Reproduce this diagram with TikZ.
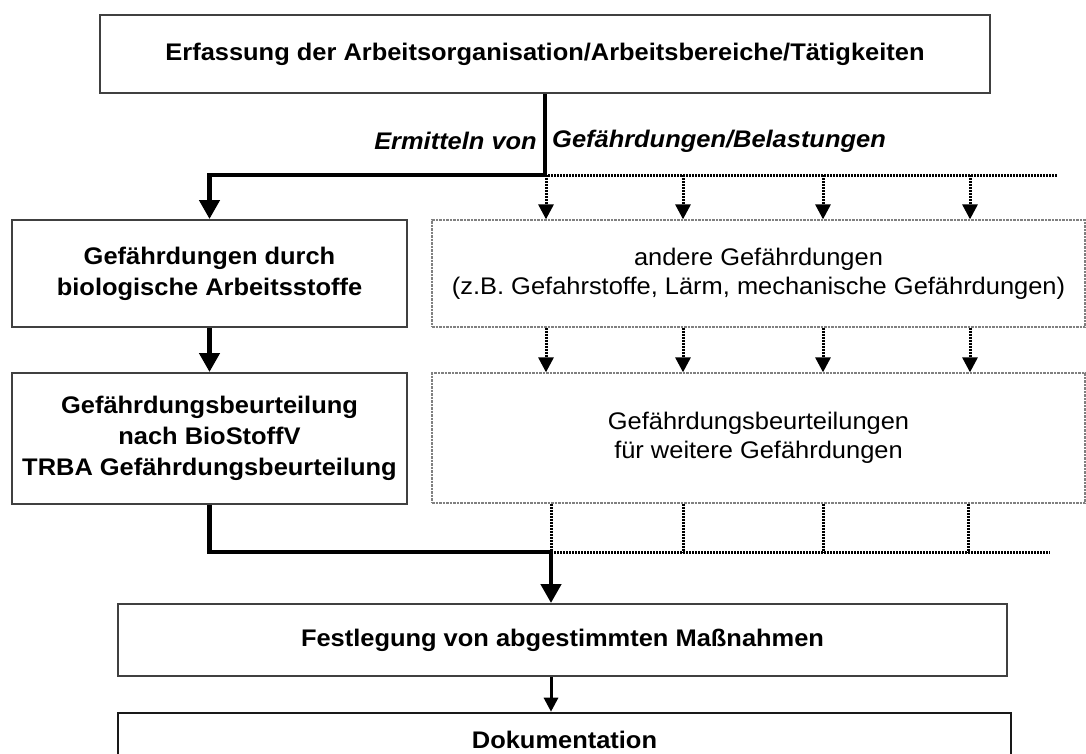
\documentclass[tikz,border=0pt]{standalone}
\usepackage{fontspec}
\setmainfont{Liberation Sans}[FakeStretch=1.06]
\usetikzlibrary{arrows.meta,calc}
\tikzset{
  x=1pt,y=-1pt,
  box/.style={draw=black!75,line width=2pt,rectangle,inner sep=0pt,align=center,
    font=\fontsize{24}{31}\selectfont\bfseries},
  dbox/.style={draw=black!50,line width=1.3pt,dash pattern=on 2.5pt off 1pt,rectangle,inner sep=0pt,align=center,
    font=\fontsize{24}{29}\selectfont},
  thick arrow/.style={line width=4.5pt,-{Triangle[length=19pt,width=20pt]}},
  thick line/.style={line width=4.5pt},
  dot line/.style={line width=3pt,dash pattern=on 2pt off 1pt},
  dot arrow/.style={dot line,-{Triangle[length=15pt,width=15pt]}},
  lbl/.style={font=\fontsize{24}{28}\selectfont\bfseries\itshape,inner sep=0pt},
}
\begin{document}
\begin{tikzpicture}
\useasboundingbox (0,0) rectangle (1086,753);
\fill[white] (0,0) rectangle (1086,753);

\node[box,minimum width=890pt,minimum height=78pt] (top) at (545,54)
  {Erfassung der Arbeitsorganisation/Arbeitsbereiche/Tätigkeiten};
\node[box,minimum width=395pt,minimum height=107pt] (bio) at (209.5,273.5)
  {Gefährdungen durch\\biologische Arbeitsstoffe};
\node[box,minimum width=395pt,minimum height=131pt] (tbeur) at (209.5,438.5)
  {Gefährdungsbeurteilung\\nach BioStoffV\\TRBA Gefährdungsbeurteilung};
\node[dbox,minimum width=653pt,minimum height=107pt] (other) at (758.5,273.5)
  {andere Gefährdungen\\(z.B. Gefahrstoffe, Lärm, mechanische Gefährdungen)};
\node[dbox,minimum width=653pt,minimum height=130pt] (weitere) at (758.5,438)
  {Gefährdungsbeurteilungen\\für weitere Gefährdungen};
\node[box,minimum width=889pt,minimum height=72pt] (fest) at (562.5,640)
  {Festlegung von abgestimmten Maßnahmen};
\node[box,draw=black!90,line width=2.6pt,minimum width=893pt,minimum height=54pt] (doku) at (564.5,740)
  {Dokumentation};

\node[lbl,anchor=east] (lblA) at (537,141) {Ermitteln von};
\node[lbl,anchor=west] (lblB) at (552,141) {Gefährdungen/Belastungen};

% junctions
\coordinate (j1) at (545,175);
\coordinate (jr) at (1057,175);
\coordinate (j2) at (551,552);
\coordinate (j2r) at (1050,552);
\coordinate (jl) at (209.5,552);

% top branch
\draw[thick line] (top.south -| j1) -- (j1);
\draw[thick arrow] (j1) -| (bio.north);
\draw[dot line] (j1) -- (jr);
\foreach \x in {546,683,823,970}{
  \draw[dot arrow] (\x,175) -- (other.north -| \x,0);
  \draw[dot arrow] (other.south -| \x,0) -- (weitere.north -| \x,0);
}
\foreach \x in {551,683,823,968}{
  \draw[dot line] (weitere.south -| \x,0) -- (\x,552);
}
\draw[dot line] (j2) -- (j2r);

% left column
\draw[thick arrow] (bio.south) -- (tbeur.north);
\draw[thick line] (tbeur.south) -- (jl) -- (j2);
\draw[thick arrow] (j2) -- (fest.north -| j2);
\draw[line width=3pt,-{Triangle[length=14pt,width=14pt]}] (fest.south -| j2) -- (doku.north -| j2);
\end{tikzpicture}
\end{document}
